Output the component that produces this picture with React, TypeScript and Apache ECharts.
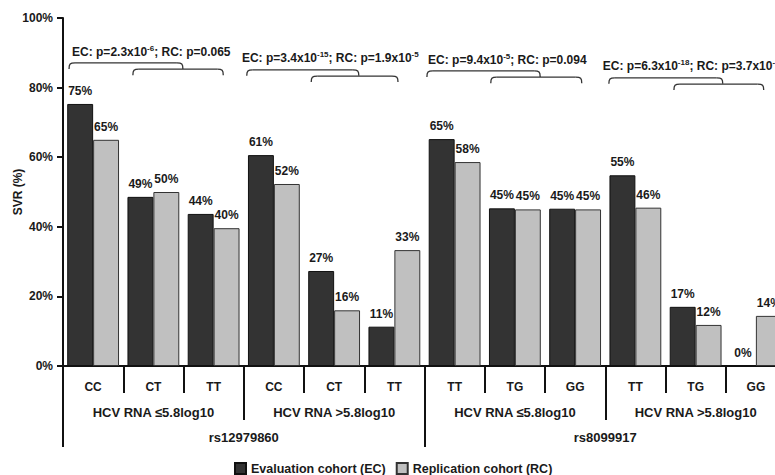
import React, { useEffect, useRef } from 'react';
import * as echarts from 'echarts';

// ---- data ----
const genotypes = ['CC', 'CT', 'TT', 'CC', 'CT', 'TT', 'TT', 'TG', 'GG', 'TT', 'TG', 'GG'];
const viralLoadGroups = ['HCV RNA ≤5.8log10', 'HCV RNA >5.8log10', 'HCV RNA ≤5.8log10', 'HCV RNA >5.8log10'];
const snps = ['rs12979860', 'rs8099917'];
const seriesNames = ['Evaluation cohort (EC)', 'Replication cohort (RC)'];
const ecValues = [75.3, 48.6, 43.7, 60.6, 27.3, 11.3, 65.2, 45.3, 45.2, 54.8, 17.0, 0];
const rcValues = [65.0, 50.0, 39.6, 52.3, 16.0, 33.3, 58.6, 45.0, 45.0, 45.5, 11.8, 14.4];
const ecLabels = [75, 49, 44, 61, 27, 11, 65, 45, 45, 55, 17, 0];
const rcLabels = [65, 50, 40, 52, 16, 33, 58, 45, 45, 46, 12, 14];
const yTicks = { min: 0, max: 100, interval: 20 };
const yTitle = 'SVR (%)';

// p-value annotations: [ecMantissa, ecExp, rcText, rcExp]
const pTexts = [
  ['2.3x10', '-6', '0.065', ''],
  ['3.4x10', '-15', '1.9x10', '-5'],
  ['9.4x10', '-5', '0.094', ''],
  ['6.3x10', '-18', '3.7x10', '-7'],
];
// text anchor (category units, value units)
const pTextCat = [-0.35, 2.47, 5.56, 8.46];
const pTextVal = [90.2, 88.5, 87.9, 86.2];
// brackets: [startCat, endCat, topValue]
const brackets = [
  [-0.4, 1.49, 87.1], [0.66, 2.16, 85.3],
  [2.55, 4.41, 85.1], [3.62, 5.06, 83.3],
  [5.54, 7.42, 84.8], [6.6, 8.11, 83.0],
  [8.56, 10.45, 82.8], [9.64, 11.13, 81.0],
];

const FONT = '"Liberation Sans", Arial, sans-serif';
const INK = '#1a1a1a';

export default function App() {
  const ref = useRef<HTMLDivElement>(null);
  useEffect(() => {
    const chart = echarts.init(ref.current!, null, { renderer: 'svg' });
    const txt = { fontFamily: FONT, fontWeight: 'bold' as const, fontSize: 12, color: INK };
    const option: any = {
      animation: false,
      backgroundColor: '#ffffff',
      grid: { left: 63, top: 18, width: 723, height: 348, containLabel: false, outerBoundsMode: 'none' },
      legend: {
        data: seriesNames,
        left: 229,
        top: 457,
        itemWidth: 11,
        itemHeight: 11,
        itemGap: 10,
        icon: 'rect',
        textStyle: { ...txt, fontSize: 12.5 },
      },
      xAxis: [
        {
          type: 'category',
          data: genotypes,
          position: 'bottom',
          axisLine: { show: true, lineStyle: { color: '#111', width: 2 } },
          axisTick: { show: true, interval: 0, length: 27, lineStyle: { color: '#111', width: 2 } },
          axisLabel: { ...txt, interval: 0, margin: 15 },
          splitLine: { show: false },
        },
        {
          type: 'category',
          data: viralLoadGroups,
          position: 'bottom',
          offset: 0,
          axisLine: { show: false },
          axisTick: { show: true, interval: 0, length: 54, lineStyle: { color: '#111', width: 2 } },
          axisLabel: { ...txt, fontSize: 13, interval: 0, margin: 40 },
          splitLine: { show: false },
        },
        {
          type: 'category',
          data: snps,
          position: 'bottom',
          offset: 0,
          axisLine: { show: false },
          axisTick: { show: true, interval: 0, length: 81, lineStyle: { color: '#111', width: 2 } },
          axisLabel: { ...txt, fontSize: 13, interval: 0, margin: 65 },
          splitLine: { show: false },
        },
      ],
      yAxis: {
        type: 'value',
        min: yTicks.min,
        max: yTicks.max,
        interval: yTicks.interval,
        axisLine: { show: true, lineStyle: { color: '#111', width: 2 } },
        axisTick: { show: true, inside: false, length: 6, lineStyle: { color: '#111', width: 2 } },
        axisLabel: { ...txt, margin: 10, formatter: '{value}%' },
        splitLine: { show: false },
      },
      series: [
        {
          name: seriesNames[0],
          type: 'bar',
          data: ecValues,
          barGap: '0%',
          barCategoryGap: '14%',
          itemStyle: { color: '#333333', borderColor: '#111111', borderWidth: 1 },
          label: {
            show: true,
            position: 'top',
            distance: 7,
            ...txt,
            formatter: (p: any) => `${ecLabels[p.dataIndex]}%`,
          },
        },
        {
          name: seriesNames[1],
          type: 'bar',
          data: rcValues,
          itemStyle: { color: '#c0c0c0', borderColor: '#333333', borderWidth: 1 },
          label: {
            show: true,
            position: 'top',
            distance: 7,
            ...txt,
            formatter: (p: any) => `${rcLabels[p.dataIndex]}%`,
          },
        },
      ],
    };
    chart.setOption(option);

    const x0 = chart.convertToPixel({ xAxisIndex: 0 }, 0) as number;
    const x1 = chart.convertToPixel({ xAxisIndex: 0 }, 1) as number;
    const step = x1 - x0;
    const px = (c: number) => x0 + c * step;
    const py = (v: number) => chart.convertToPixel({ yAxisIndex: 0 }, v) as number;

    const rich = {
      a: { fontFamily: FONT, fontWeight: 'bold', fontSize: 12, fill: INK, lineHeight: 16 },
      s: { fontFamily: FONT, fontWeight: 'bold', fontSize: 8, fill: INK, lineHeight: 10, verticalAlign: 'top' },
    };
    const elements: any[] = [];
    elements.push({
      type: 'text',
      x: 18,
      y: py((yTicks.min + yTicks.max) / 2),
      rotation: Math.PI / 2,
      style: { text: yTitle, fill: INK, fontFamily: FONT, fontWeight: 'bold', fontSize: 12, align: 'center', verticalAlign: 'middle' },
    });
    pTexts.forEach((p, k) => {
      let t = `{a|EC: p=${p[0]}}{s|${p[1]}}{a|; RC: p=${p[2]}}`;
      if (p[3]) t += `{s|${p[3]}}`;
      elements.push({
        type: 'text',
        x: px(pTextCat[k]),
        y: py(pTextVal[k]),
        style: { text: t, rich, fill: INK, fontFamily: FONT, fontWeight: 'bold', fontSize: 12, align: 'left', verticalAlign: 'middle' },
      });
    });
    const bStyle = { stroke: '#333', lineWidth: 1.3, fill: null };
    brackets.forEach(([c1, c2, v]) => {
      const xa = px(c1);
      const xb = px(c2);
      const yt = py(v);
      const yb = yt + 6;
      const r = 6;
      elements.push({ type: 'bezierCurve', shape: { x1: xa, y1: yb, x2: xa + r, y2: yt, cpx1: xa, cpy1: yt + 1, cpx2: xa + 1, cpy2: yt }, style: bStyle });
      elements.push({ type: 'line', shape: { x1: xa + r, y1: yt, x2: xb - r, y2: yt }, style: bStyle });
      elements.push({ type: 'bezierCurve', shape: { x1: xb - r, y1: yt, x2: xb, y2: yb, cpx1: xb - 1, cpy1: yt, cpx2: xb, cpy2: yt + 1 }, style: bStyle });
    });
    chart.setOption({ graphic: elements });

    return () => chart.dispose();
  }, []);
  return (
    <div
      ref={ref}
      style={{ position: 'absolute', left: 0, top: 0, width: 775, height: 475, overflow: 'hidden' }}
    />
  );
}
